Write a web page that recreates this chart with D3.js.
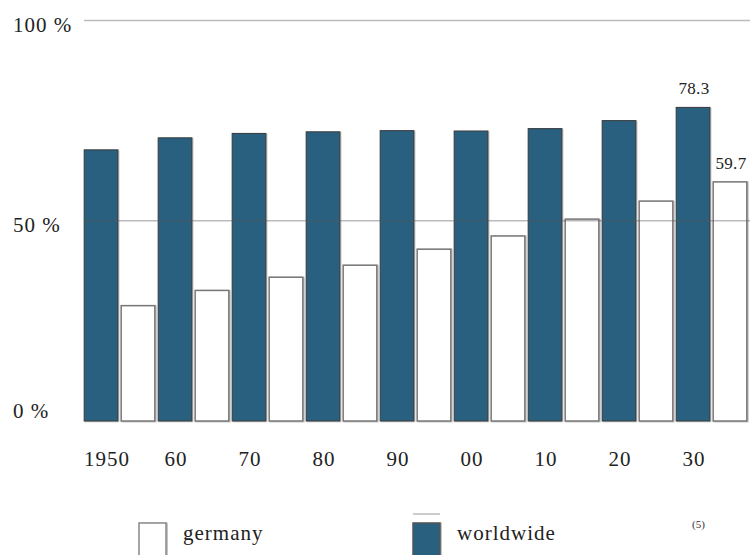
<!DOCTYPE html>
<html>
<head>
<meta charset="utf-8">
<script src="https://cdn.jsdelivr.net/npm/d3@7"></script>
<style>
  body { margin: 0; background: #fff; }
  svg { display: block; }
  svg text { font-family: "Liberation Serif", Tinos, "Times New Roman", Times, serif; }
</style>
</head>
<body>
<div id="chart"></div>
<script>
// decades along the bottom
const decades = ["1950", "60", "70", "80", "90", "00", "10", "20", "30"];
// dark bars (legend: worldwide)
const worldwide = [67.7, 70.7, 71.8, 72.2, 72.5, 72.4, 73.0, 75.0, 78.3];
// white bars (legend: germany)
const germany = [28.8, 32.6, 35.9, 38.9, 42.9, 46.2, 50.4, 54.9, 59.7];
const yTicks = [0, 50, 100];
const series = ["worldwide", "germany"];

const width = 750, height = 555;
const blue = "#29607f";

const svg = d3.select("#chart").append("svg")
  .attr("width", width)
  .attr("height", height);

const defs = svg.append("defs");
defs.append("filter")
  .attr("id", "shadow")
  .attr("x", "-10%").attr("y", "-10%").attr("width", "130%").attr("height", "130%")
  .append("feDropShadow")
  .attr("dx", 1).attr("dy", 0.5)
  .attr("stdDeviation", 0.7)
  .attr("flood-color", "#000")
  .attr("flood-opacity", 0.3);

const x = d3.scaleBand().domain(decades).range([82.5, 748.5]).padding(0);
const xSub = d3.scaleBand().domain(series).range([0, x.bandwidth()]).paddingInner(0.09).paddingOuter(0.045);
const y = d3.scaleLinear().domain([0, 100]).range([421, 20.5]);

const rows = decades.map((d, i) => ({ decade: d, worldwide: worldwide[i], germany: germany[i] }));

// bars
const groups = svg.append("g").selectAll("g")
  .data(rows)
  .join("g")
  .attr("transform", (d) => `translate(${x(d.decade)},0)`);

groups.selectAll("rect")
  .data((d) => series.map((k) => ({ key: k, value: d[k] })))
  .join("rect")
  .attr("x", (d) => xSub(d.key))
  .attr("width", xSub.bandwidth())
  .attr("y", (d) => y(d.value))
  .attr("height", (d) => y(0) - y(d.value))
  .attr("fill", (d) => (d.key === "worldwide" ? blue : "#fff"))
  .attr("stroke", (d) => (d.key === "worldwide" ? "#3a3a3a" : "#777"))
  .attr("stroke-width", (d) => (d.key === "worldwide" ? 1 : 1.5))
  .attr("filter", "url(#shadow)");

// gridlines on top of the bars
svg.append("g").selectAll("line")
  .data(yTicks.filter((t) => t > 0))
  .join("line")
  .attr("x1", 84)
  .attr("x2", width)
  .attr("y1", (d) => y(d))
  .attr("y2", (d) => y(d))
  .attr("stroke", "#555")
  .attr("stroke-opacity", 0.4)
  .attr("stroke-width", 1.5);

// y labels
svg.append("g").selectAll("text")
  .data(yTicks)
  .join("text")
  .attr("x", 13)
  .attr("y", (d) => y(d) + (d === 0 ? -3 : 11))
  .attr("font-size", 21)
  .attr("letter-spacing", 1)
  .attr("fill", "#222")
  .text((d) => d + " %");

// x labels, under the dark bar of each pair
svg.append("g").selectAll("text")
  .data(decades)
  .join("text")
  .attr("x", (d) => x(d) + xSub("worldwide") + xSub.bandwidth() / 2 + (d === "1950" ? 6 : 1))
  .attr("y", 466)
  .attr("text-anchor", "middle")
  .attr("font-size", 21)
  .attr("letter-spacing", 1)
  .attr("fill", "#222")
  .text((d) => d);

// value labels for the last pair
const last = rows[rows.length - 1];
svg.append("g").selectAll("text")
  .data(series.map((k) => ({ key: k, value: last[k] })))
  .join("text")
  .attr("x", (d) => x(last.decade) + xSub(d.key) + xSub.bandwidth() / 2 + 1)
  .attr("y", (d) => y(d.value) - 13)
  .attr("text-anchor", "middle")
  .attr("font-size", 17)
  .attr("letter-spacing", 0.3)
  .attr("fill", "#222")
  .text((d) => d.value.toFixed(1));

// legend
const legendItems = [
  { label: "germany", fill: "#fff", stroke: "#888", x: 139 },
  { label: "worldwide", fill: blue, stroke: "#555", x: 413 },
];

const legend = svg.append("g").selectAll("g")
  .data(legendItems)
  .join("g")
  .attr("transform", (d) => `translate(${d.x},523)`);

legend.append("rect")
  .attr("width", 27)
  .attr("height", 40)
  .attr("fill", (d) => d.fill)
  .attr("stroke", (d) => d.stroke)
  .attr("stroke-width", 1.5)
  .attr("filter", "url(#shadow)");

legend.append("text")
  .attr("x", 44)
  .attr("y", 17)
  .attr("font-size", 21)
  .attr("letter-spacing", 1)
  .attr("fill", "#222")
  .text((d) => d.label);

legend.filter((d) => d.label === "worldwide")
  .append("line")
  .attr("x1", 0).attr("x2", 27)
  .attr("y1", -9).attr("y2", -9)
  .attr("stroke", "#999")
  .attr("stroke-width", 1);

svg.append("text")
  .attr("x", 692)
  .attr("y", 528)
  .attr("font-size", 11)
  .attr("fill", "#333")
  .text("(5)");
</script>
</body>
</html>
